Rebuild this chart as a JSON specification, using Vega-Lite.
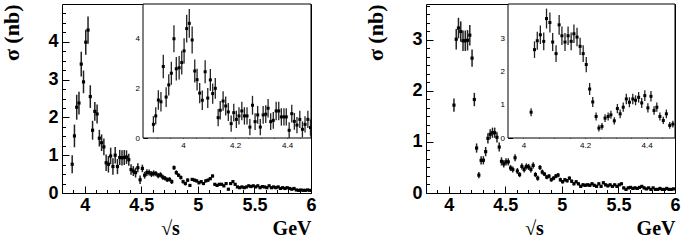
{
"$schema": "https://vega.github.io/schema/vega-lite/v6.json",
"padding": {"left": 0, "top": 3, "right": 0, "bottom": 0},
"background": "white",
"datasets": {
"mainA": [
{"x":3.89,"y":0.76,"e":0.24},{"x":3.91,"y":1.51,"e":0.3},{"x":3.93,"y":2.27,"e":0.33},{"x":3.95,"y":2.38,"e":0.3},{"x":3.97,"y":3.41,"e":0.33},{"x":3.99,"y":2.94,"e":0.3},{"x":4.01,"y":3.99,"e":0.33},{"x":4.03,"y":4.31,"e":0.36},{"x":4.05,"y":2.55,"e":0.3},{"x":4.07,"y":1.66,"e":0.25},{"x":4.09,"y":2.16,"e":0.25},{"x":4.11,"y":2.09,"e":0.25},{"x":4.13,"y":1.45,"e":0.22},{"x":4.15,"y":1.33,"e":0.22},{"x":4.17,"y":1.22,"e":0.22},{"x":4.19,"y":0.8,"e":0.22},{"x":4.21,"y":0.76,"e":0.22},{"x":4.23,"y":0.98,"e":0.22},{"x":4.25,"y":0.7,"e":0.22},{"x":4.27,"y":1.0,"e":0.22},{"x":4.29,"y":0.7,"e":0.2},{"x":4.31,"y":0.94,"e":0.2},{"x":4.33,"y":0.93,"e":0.2},{"x":4.35,"y":0.94,"e":0.2},{"x":4.37,"y":0.95,"e":0.18},{"x":4.39,"y":0.88,"e":0.16},{"x":4.41,"y":0.62,"e":0.14},{"x":4.43,"y":0.58,"e":0.13},{"x":4.45,"y":0.54,"e":0.13},{"x":4.47,"y":0.67,"e":0.12},{"x":4.49,"y":0.35,"e":0.11},{"x":4.51,"y":0.65,"e":0.1},{"x":4.53,"y":0.47,"e":0.09},{"x":4.55,"y":0.54,"e":0.09},{"x":4.57,"y":0.54,"e":0.08},{"x":4.59,"y":0.5,"e":0.08},{"x":4.61,"y":0.52,"e":0.08},{"x":4.63,"y":0.51,"e":0.07},{"x":4.65,"y":0.46,"e":0.07},{"x":4.67,"y":0.48,"e":0.07},{"x":4.69,"y":0.42,"e":0.07},{"x":4.71,"y":0.39,"e":0.06},{"x":4.73,"y":0.35,"e":0.06},{"x":4.75,"y":0.36,"e":0.06},{"x":4.77,"y":0.3,"e":0.06},{"x":4.79,"y":0.67,"e":0.06},{"x":4.81,"y":0.54,"e":0.06},{"x":4.83,"y":0.47,"e":0.05},{"x":4.85,"y":0.41,"e":0.05},{"x":4.87,"y":0.3,"e":0.05},{"x":4.89,"y":0.25,"e":0.05},{"x":4.91,"y":0.34,"e":0.05},{"x":4.93,"y":0.2,"e":0.04},{"x":4.95,"y":0.36,"e":0.04},{"x":4.97,"y":0.34,"e":0.04},{"x":4.99,"y":0.32,"e":0.04},{"x":5.01,"y":0.27,"e":0.04},{"x":5.03,"y":0.3,"e":0.04},{"x":5.05,"y":0.25,"e":0.04},{"x":5.07,"y":0.32,"e":0.04},{"x":5.09,"y":0.34,"e":0.04},{"x":5.11,"y":0.38,"e":0.04},{"x":5.13,"y":0.45,"e":0.04},{"x":5.15,"y":0.23,"e":0.035},{"x":5.17,"y":0.2,"e":0.035},{"x":5.19,"y":0.23,"e":0.035},{"x":5.21,"y":0.23,"e":0.035},{"x":5.23,"y":0.19,"e":0.035},{"x":5.25,"y":0.25,"e":0.035},{"x":5.27,"y":0.1,"e":0.03},{"x":5.29,"y":0.25,"e":0.03},{"x":5.31,"y":0.3,"e":0.03},{"x":5.33,"y":0.23,"e":0.03},{"x":5.35,"y":0.16,"e":0.03},{"x":5.37,"y":0.14,"e":0.03},{"x":5.39,"y":0.16,"e":0.03},{"x":5.41,"y":0.14,"e":0.03},{"x":5.43,"y":0.16,"e":0.03},{"x":5.45,"y":0.19,"e":0.03},{"x":5.47,"y":0.17,"e":0.03},{"x":5.49,"y":0.19,"e":0.03},{"x":5.51,"y":0.16,"e":0.03},{"x":5.53,"y":0.19,"e":0.03},{"x":5.55,"y":0.14,"e":0.03},{"x":5.57,"y":0.17,"e":0.03},{"x":5.59,"y":0.16,"e":0.03},{"x":5.61,"y":0.14,"e":0.03},{"x":5.63,"y":0.19,"e":0.03},{"x":5.65,"y":0.14,"e":0.03},{"x":5.67,"y":0.16,"e":0.03},{"x":5.69,"y":0.14,"e":0.03},{"x":5.71,"y":0.16,"e":0.03},{"x":5.73,"y":0.12,"e":0.03},{"x":5.75,"y":0.14,"e":0.03},{"x":5.77,"y":0.12,"e":0.03},{"x":5.79,"y":0.14,"e":0.03},{"x":5.81,"y":0.12,"e":0.025},{"x":5.83,"y":0.1,"e":0.025},{"x":5.85,"y":0.12,"e":0.025},{"x":5.87,"y":0.08,"e":0.025},{"x":5.89,"y":0.07,"e":0.025},{"x":5.91,"y":0.08,"e":0.025},{"x":5.93,"y":0.07,"e":0.025},{"x":5.95,"y":0.07,"e":0.025},{"x":5.97,"y":0.08,"e":0.025},{"x":5.99,"y":0.07,"e":0.025}
],
"insetA": [
{"x":3.886,"y":0.55,"e":0.33},{"x":3.895,"y":0.89,"e":0.35},{"x":3.905,"y":1.53,"e":0.39},{"x":3.915,"y":1.46,"e":0.39},{"x":3.924,"y":2.88,"e":0.47},{"x":3.935,"y":1.65,"e":0.4},{"x":3.945,"y":2.14,"e":0.43},{"x":3.955,"y":2.61,"e":0.46},{"x":3.965,"y":4.0,"e":0.54},{"x":3.974,"y":2.79,"e":0.47},{"x":3.985,"y":2.83,"e":0.47},{"x":3.995,"y":3.04,"e":0.48},{"x":4.004,"y":3.51,"e":0.51},{"x":4.014,"y":4.41,"e":0.56},{"x":4.024,"y":4.62,"e":0.58},{"x":4.035,"y":3.95,"e":0.54},{"x":4.045,"y":2.7,"e":0.46},{"x":4.054,"y":2.35,"e":0.44},{"x":4.064,"y":1.81,"e":0.41},{"x":4.074,"y":1.52,"e":0.39},{"x":4.085,"y":2.67,"e":0.46},{"x":4.095,"y":1.61,"e":0.4},{"x":4.105,"y":2.34,"e":0.44},{"x":4.114,"y":1.79,"e":0.41},{"x":4.124,"y":2.0,"e":0.42},{"x":4.135,"y":0.82,"e":0.35},{"x":4.143,"y":1.12,"e":0.37},{"x":4.154,"y":1.49,"e":0.39},{"x":4.164,"y":1.29,"e":0.38},{"x":4.174,"y":1.05,"e":0.36},{"x":4.185,"y":0.58,"e":0.33},{"x":4.195,"y":1.02,"e":0.36},{"x":4.205,"y":0.75,"e":0.35},{"x":4.215,"y":0.89,"e":0.35},{"x":4.226,"y":1.09,"e":0.37},{"x":4.236,"y":0.89,"e":0.35},{"x":4.246,"y":0.89,"e":0.35},{"x":4.257,"y":0.44,"e":0.33},{"x":4.267,"y":1.32,"e":0.38},{"x":4.277,"y":0.66,"e":0.34},{"x":4.287,"y":0.93,"e":0.36},{"x":4.297,"y":0.44,"e":0.33},{"x":4.308,"y":0.93,"e":0.36},{"x":4.318,"y":0.96,"e":0.36},{"x":4.327,"y":1.2,"e":0.37},{"x":4.337,"y":0.66,"e":0.34},{"x":4.347,"y":0.71,"e":0.34},{"x":4.358,"y":1.09,"e":0.37},{"x":4.368,"y":1.09,"e":0.37},{"x":4.378,"y":0.85,"e":0.35},{"x":4.388,"y":0.85,"e":0.35},{"x":4.397,"y":0.85,"e":0.35},{"x":4.408,"y":0.31,"e":0.32},{"x":4.418,"y":0.98,"e":0.36},{"x":4.428,"y":0.67,"e":0.34},{"x":4.438,"y":0.52,"e":0.33},{"x":4.449,"y":0.75,"e":0.35},{"x":4.459,"y":0.35,"e":0.32},{"x":4.469,"y":0.55,"e":0.33},{"x":4.48,"y":0.75,"e":0.35},{"x":4.49,"y":0.42,"e":0.33}
],
"mainB": [
{"x":4.047,"y":1.72,"e":0.13},{"x":4.067,"y":3.01,"e":0.2},{"x":4.087,"y":3.23,"e":0.2},{"x":4.107,"y":3.16,"e":0.2},{"x":4.127,"y":2.98,"e":0.2},{"x":4.147,"y":2.98,"e":0.2},{"x":4.167,"y":2.99,"e":0.2},{"x":4.187,"y":3.09,"e":0.2},{"x":4.207,"y":2.64,"e":0.17},{"x":4.227,"y":1.83,"e":0.13},{"x":4.247,"y":0.88,"e":0.09},{"x":4.267,"y":0.35,"e":0.06},{"x":4.287,"y":0.64,"e":0.08},{"x":4.307,"y":0.64,"e":0.08},{"x":4.327,"y":0.81,"e":0.09},{"x":4.347,"y":1.07,"e":0.1},{"x":4.367,"y":1.15,"e":0.1},{"x":4.387,"y":1.18,"e":0.1},{"x":4.407,"y":1.18,"e":0.1},{"x":4.427,"y":1.09,"e":0.1},{"x":4.447,"y":0.9,"e":0.09},{"x":4.467,"y":0.62,"e":0.08},{"x":4.487,"y":0.57,"e":0.07},{"x":4.507,"y":0.61,"e":0.07},{"x":4.527,"y":0.61,"e":0.07},{"x":4.547,"y":0.49,"e":0.06},{"x":4.567,"y":0.46,"e":0.06},{"x":4.587,"y":0.69,"e":0.07},{"x":4.607,"y":0.43,"e":0.06},{"x":4.627,"y":0.36,"e":0.05},{"x":4.647,"y":0.52,"e":0.06},{"x":4.667,"y":0.46,"e":0.06},{"x":4.687,"y":0.52,"e":0.06},{"x":4.707,"y":0.51,"e":0.06},{"x":4.727,"y":0.46,"e":0.06},{"x":4.747,"y":0.54,"e":0.06},{"x":4.767,"y":0.36,"e":0.05},{"x":4.787,"y":0.29,"e":0.05},{"x":4.807,"y":0.5,"e":0.05},{"x":4.827,"y":0.41,"e":0.05},{"x":4.847,"y":0.37,"e":0.04},{"x":4.867,"y":0.31,"e":0.04},{"x":4.887,"y":0.33,"e":0.04},{"x":4.907,"y":0.26,"e":0.04},{"x":4.927,"y":0.29,"e":0.04},{"x":4.947,"y":0.33,"e":0.04},{"x":4.967,"y":0.35,"e":0.04},{"x":4.987,"y":0.26,"e":0.04},{"x":5.007,"y":0.22,"e":0.035},{"x":5.027,"y":0.26,"e":0.035},{"x":5.047,"y":0.24,"e":0.035},{"x":5.067,"y":0.29,"e":0.035},{"x":5.087,"y":0.23,"e":0.035},{"x":5.107,"y":0.18,"e":0.03},{"x":5.127,"y":0.22,"e":0.03},{"x":5.147,"y":0.18,"e":0.03},{"x":5.167,"y":0.13,"e":0.03},{"x":5.187,"y":0.16,"e":0.03},{"x":5.207,"y":0.15,"e":0.03},{"x":5.227,"y":0.16,"e":0.03},{"x":5.247,"y":0.15,"e":0.03},{"x":5.267,"y":0.18,"e":0.03},{"x":5.287,"y":0.15,"e":0.03},{"x":5.307,"y":0.13,"e":0.03},{"x":5.327,"y":0.18,"e":0.03},{"x":5.347,"y":0.13,"e":0.03},{"x":5.367,"y":0.2,"e":0.03},{"x":5.387,"y":0.16,"e":0.03},{"x":5.407,"y":0.14,"e":0.025},{"x":5.427,"y":0.16,"e":0.025},{"x":5.447,"y":0.13,"e":0.025},{"x":5.467,"y":0.16,"e":0.025},{"x":5.487,"y":0.13,"e":0.025},{"x":5.507,"y":0.16,"e":0.025},{"x":5.527,"y":0.18,"e":0.025},{"x":5.547,"y":0.1,"e":0.025},{"x":5.567,"y":0.07,"e":0.025},{"x":5.587,"y":0.1,"e":0.025},{"x":5.607,"y":0.11,"e":0.025},{"x":5.627,"y":0.09,"e":0.025},{"x":5.647,"y":0.1,"e":0.025},{"x":5.667,"y":0.09,"e":0.025},{"x":5.687,"y":0.11,"e":0.025},{"x":5.707,"y":0.13,"e":0.025},{"x":5.727,"y":0.1,"e":0.025},{"x":5.747,"y":0.08,"e":0.02},{"x":5.767,"y":0.1,"e":0.02},{"x":5.787,"y":0.07,"e":0.02},{"x":5.807,"y":0.1,"e":0.02},{"x":5.827,"y":0.07,"e":0.02},{"x":5.847,"y":0.07,"e":0.02},{"x":5.867,"y":0.09,"e":0.02},{"x":5.887,"y":0.07,"e":0.02},{"x":5.907,"y":0.07,"e":0.02},{"x":5.927,"y":0.09,"e":0.02},{"x":5.947,"y":0.07,"e":0.02},{"x":5.967,"y":0.07,"e":0.02},{"x":5.987,"y":0.08,"e":0.02}
],
"insetB": [
{"x":4.025,"y":0.78,"e":0.12},{"x":4.036,"y":2.67,"e":0.25},{"x":4.045,"y":2.94,"e":0.27},{"x":4.055,"y":3.12,"e":0.28},{"x":4.066,"y":2.92,"e":0.27},{"x":4.075,"y":3.61,"e":0.3},{"x":4.086,"y":3.49,"e":0.3},{"x":4.095,"y":2.9,"e":0.27},{"x":4.106,"y":2.55,"e":0.25},{"x":4.116,"y":3.42,"e":0.3},{"x":4.125,"y":3.09,"e":0.28},{"x":4.135,"y":2.9,"e":0.27},{"x":4.145,"y":3.09,"e":0.28},{"x":4.155,"y":2.92,"e":0.27},{"x":4.164,"y":3.15,"e":0.28},{"x":4.174,"y":3.05,"e":0.28},{"x":4.184,"y":2.77,"e":0.26},{"x":4.194,"y":2.55,"e":0.25},{"x":4.204,"y":2.22,"e":0.23},{"x":4.215,"y":1.48,"e":0.18},{"x":4.225,"y":1.09,"e":0.15},{"x":4.236,"y":0.65,"e":0.12},{"x":4.245,"y":0.3,"e":0.1},{"x":4.255,"y":0.35,"e":0.1},{"x":4.265,"y":0.6,"e":0.12},{"x":4.275,"y":0.65,"e":0.12},{"x":4.284,"y":0.7,"e":0.12},{"x":4.295,"y":0.52,"e":0.11},{"x":4.305,"y":0.89,"e":0.14},{"x":4.314,"y":0.73,"e":0.13},{"x":4.324,"y":0.93,"e":0.14},{"x":4.334,"y":1.18,"e":0.16},{"x":4.344,"y":1.08,"e":0.15},{"x":4.355,"y":1.18,"e":0.16},{"x":4.364,"y":1.14,"e":0.15},{"x":4.374,"y":1.23,"e":0.16},{"x":4.384,"y":1.06,"e":0.15},{"x":4.394,"y":1.28,"e":0.16},{"x":4.404,"y":0.91,"e":0.14},{"x":4.414,"y":1.26,"e":0.16},{"x":4.424,"y":0.83,"e":0.13},{"x":4.433,"y":0.93,"e":0.14},{"x":4.443,"y":0.65,"e":0.12},{"x":4.454,"y":0.53,"e":0.11},{"x":4.464,"y":0.73,"e":0.13},{"x":4.475,"y":0.38,"e":0.1},{"x":4.485,"y":0.42,"e":0.1}
]
},
"hconcat": [
{
"width": 249, "height": 189,
"resolve": {"scale": {"x": "independent", "y": "independent"}, "axis": {"x": "independent", "y": "independent"}},
"layer": [
{"data": {"name": "mainA"}, "mark": {"type": "errorbar", "color": "#222", "thickness": 1.5},
 "encoding": {
  "x": {"field": "x", "type": "quantitative", "scale": {"domain": [3.8, 6], "nice": false, "zero": false},
        "axis": {"orient": "bottom", "values": [3.8,3.9,4.1,4.2,4.3,4.4,4.6,4.7,4.8,4.9,5.1,5.2,5.3,5.4,5.6,5.7,5.8,5.9], "tickSize": -3.5, "tickColor": "black", "labels": false, "domain": false, "grid": false,
                 "title": "√s", "titleFont": "Liberation Serif", "titleFontSize": 20, "titleFontWeight": "bold", "titleColor": "black", "titleX": 108, "titleY": 41, "titleAlign": "center", "titleBaseline": "alphabetic"}},
  "y": {"field": "y", "type": "quantitative", "scale": {"domain": [0, 5], "nice": false},
        "axis": {"orient": "left", "values": [0.25,0.5,0.75,1.25,1.5,1.75,2.25,2.5,2.75,3.25,3.5,3.75,4.25,4.5,4.75], "tickSize": -3.5, "tickColor": "black", "labels": false, "domain": false, "grid": false, "title": null}},
  "yError": {"field": "e"}
 }},
{"data": {"name": "mainA"}, "mark": {"type": "point", "shape": "square", "filled": true, "size": 10, "color": "black", "opacity": 1},
 "encoding": {
  "x": {"field": "x", "type": "quantitative", "scale": {"domain": [3.8, 6], "nice": false, "zero": false},
        "axis": {"orient": "bottom", "values": [4, 4.5, 5, 5.5, 6], "format": "~g", "tickSize": -7, "tickColor": "black", "domain": false, "grid": false,
                 "labelFont": "Liberation Sans", "labelFontWeight": "bold", "labelFontSize": 18, "labelColor": "black", "labelPadding": 10, "labelFlush": false,
                 "title": "GeV", "titleFont": "Liberation Serif", "titleFontSize": 20, "titleFontWeight": "bold", "titleColor": "black", "titleX": 249, "titleY": 41, "titleAlign": "right", "titleBaseline": "alphabetic"}},
  "y": {"field": "y", "type": "quantitative", "scale": {"domain": [0, 5], "nice": false},
        "axis": {"orient": "left", "values": [0, 1, 2, 3, 4], "format": "d", "tickSize": -7, "tickColor": "black", "domain": false, "grid": false,
                 "labelFont": "Liberation Sans", "labelFontWeight": "bold", "labelFontSize": 18, "labelColor": "black", "labelPadding": 11, "labelFlush": false,
                 "title": "σ (nb)", "titleFont": "Liberation Serif", "titleFontSize": 22, "titleFontWeight": "bold", "titleColor": "black", "titleAnchor": "end", "titlePadding": 24}}
 }},
{"data": {"values": [{}]}, "mark": {"type": "rect", "fill": "white", "stroke": "black", "strokeWidth": 1},
 "encoding": {
  "x": {"datum": 3.846, "type": "quantitative", "scale": {"domain": [3.846, 4.492], "range": [81, 249], "nice": false, "zero": false},
        "axis": {"orient": "bottom", "offset": -55, "values": [3.85,3.9,3.95,4.05,4.1,4.15,4.25,4.3,4.35,4.45], "tickSize": -2.5, "tickColor": "black", "labels": false, "domain": false, "grid": false, "title": null}},
  "x2": {"datum": 4.492},
  "y": {"datum": 0, "type": "quantitative", "scale": {"domain": [0, 5.4], "range": [134, 0], "nice": false},
        "axis": {"orient": "left", "offset": -81, "values": [0.5,1,1.5,2.5,3,3.5,4.5,5], "tickSize": -2.5, "tickColor": "black", "labels": false, "domain": false, "grid": false, "title": null}},
  "y2": {"datum": 5.4}
 }},
{"data": {"name": "insetA"}, "mark": {"type": "errorbar", "color": "#222", "thickness": 1.3},
 "encoding": {
  "x": {"field": "x", "type": "quantitative", "scale": {"domain": [3.846, 4.492], "range": [81, 249], "nice": false, "zero": false}, "axis": null},
  "y": {"field": "y", "type": "quantitative", "scale": {"domain": [0, 5.4], "range": [134, 0], "nice": false}, "axis": null},
  "yError": {"field": "e"}
 }},
{"data": {"name": "insetA"}, "mark": {"type": "point", "shape": "square", "filled": true, "size": 9, "color": "black", "opacity": 1},
 "encoding": {
  "x": {"field": "x", "type": "quantitative", "scale": {"domain": [3.846, 4.492], "range": [81, 249], "nice": false, "zero": false},
        "axis": {"orient": "bottom", "offset": -55, "values": [4, 4.2, 4.4], "format": "~g", "tickSize": -4.5, "tickColor": "black", "domain": false, "grid": false,
                 "labelFont": "Liberation Sans", "labelFontSize": 8, "labelColor": "black", "labelPadding": 7.5, "labelFlush": false, "title": null}},
  "y": {"field": "y", "type": "quantitative", "scale": {"domain": [0, 5.4], "range": [134, 0], "nice": false},
        "axis": {"orient": "left", "offset": -81, "values": [0, 2, 4], "format": "d", "tickSize": -4.5, "tickColor": "black", "domain": false, "grid": false,
                 "labelFont": "Liberation Sans", "labelFontSize": 8, "labelColor": "black", "labelPadding": 8, "labelFlush": false, "title": null}}
 }}
]
},
{
"width": 249, "height": 189,
"resolve": {"scale": {"x": "independent", "y": "independent"}, "axis": {"x": "independent", "y": "independent"}},
"layer": [
{"data": {"name": "mainB"}, "mark": {"type": "errorbar", "color": "#222", "thickness": 1.5},
 "encoding": {
  "x": {"field": "x", "type": "quantitative", "scale": {"domain": [3.8, 6], "nice": false, "zero": false},
        "axis": {"orient": "bottom", "values": [3.8,3.9,4.1,4.2,4.3,4.4,4.6,4.7,4.8,4.9,5.1,5.2,5.3,5.4,5.6,5.7,5.8,5.9], "tickSize": -3.5, "tickColor": "black", "labels": false, "domain": false, "grid": false,
                 "title": "√s", "titleFont": "Liberation Serif", "titleFontSize": 20, "titleFontWeight": "bold", "titleColor": "black", "titleX": 108, "titleY": 41, "titleAlign": "center", "titleBaseline": "alphabetic"}},
  "y": {"field": "y", "type": "quantitative", "scale": {"domain": [0, 3.7], "nice": false},
        "axis": {"orient": "left", "values": [0.1667,0.3333,0.5,0.6667,0.8333,1.1667,1.3333,1.5,1.6667,1.8333,2.1667,2.3333,2.5,2.6667,2.8333,3.1667,3.3333,3.5,3.6667], "tickSize": -3.5, "tickColor": "black", "labels": false, "domain": false, "grid": false, "title": null}},
  "yError": {"field": "e"}
 }},
{"data": {"name": "mainB"}, "mark": {"type": "point", "shape": "square", "filled": true, "size": 10, "color": "black", "opacity": 1},
 "encoding": {
  "x": {"field": "x", "type": "quantitative", "scale": {"domain": [3.8, 6], "nice": false, "zero": false},
        "axis": {"orient": "bottom", "values": [4, 4.5, 5, 5.5, 6], "format": "~g", "tickSize": -7, "tickColor": "black", "domain": false, "grid": false,
                 "labelFont": "Liberation Sans", "labelFontWeight": "bold", "labelFontSize": 18, "labelColor": "black", "labelPadding": 10, "labelFlush": false,
                 "title": "GeV", "titleFont": "Liberation Serif", "titleFontSize": 20, "titleFontWeight": "bold", "titleColor": "black", "titleX": 249, "titleY": 41, "titleAlign": "right", "titleBaseline": "alphabetic"}},
  "y": {"field": "y", "type": "quantitative", "scale": {"domain": [0, 3.7], "nice": false},
        "axis": {"orient": "left", "values": [0, 1, 2, 3], "format": "d", "tickSize": -7, "tickColor": "black", "domain": false, "grid": false,
                 "labelFont": "Liberation Sans", "labelFontWeight": "bold", "labelFontSize": 18, "labelColor": "black", "labelPadding": 11, "labelFlush": false,
                 "title": "σ (nb)", "titleFont": "Liberation Serif", "titleFontSize": 22, "titleFontWeight": "bold", "titleColor": "black", "titleAnchor": "end", "titlePadding": 24}}
 }},
{"data": {"values": [{}]}, "mark": {"type": "rect", "fill": "white", "stroke": "black", "strokeWidth": 1},
 "encoding": {
  "x": {"datum": 3.95, "type": "quantitative", "scale": {"domain": [3.95, 4.492], "range": [82, 249], "nice": false, "zero": false},
        "axis": {"orient": "bottom", "offset": -55, "values": [3.95,4.05,4.1,4.15,4.25,4.3,4.35,4.45], "tickSize": -2.5, "tickColor": "black", "labels": false, "domain": false, "grid": false, "title": null}},
  "x2": {"datum": 4.492},
  "y": {"datum": 0, "type": "quantitative", "scale": {"domain": [0, 4.05], "range": [134, 0], "nice": false},
        "axis": {"orient": "left", "offset": -82, "values": [0.25,0.5,0.75,1.25,1.5,1.75,2.25,2.5,2.75,3.25,3.5,3.75,4], "tickSize": -2.5, "tickColor": "black", "labels": false, "domain": false, "grid": false, "title": null}},
  "y2": {"datum": 4.05}
 }},
{"data": {"name": "insetB"}, "mark": {"type": "errorbar", "color": "#222", "thickness": 1.3},
 "encoding": {
  "x": {"field": "x", "type": "quantitative", "scale": {"domain": [3.95, 4.492], "range": [82, 249], "nice": false, "zero": false}, "axis": null},
  "y": {"field": "y", "type": "quantitative", "scale": {"domain": [0, 4.05], "range": [134, 0], "nice": false}, "axis": null},
  "yError": {"field": "e"}
 }},
{"data": {"name": "insetB"}, "mark": {"type": "point", "shape": "square", "filled": true, "size": 9, "color": "black", "opacity": 1},
 "encoding": {
  "x": {"field": "x", "type": "quantitative", "scale": {"domain": [3.95, 4.492], "range": [82, 249], "nice": false, "zero": false},
        "axis": {"orient": "bottom", "offset": -55, "values": [4, 4.2, 4.4], "format": "~g", "tickSize": -4.5, "tickColor": "black", "domain": false, "grid": false,
                 "labelFont": "Liberation Sans", "labelFontSize": 8, "labelColor": "black", "labelPadding": 7.5, "labelFlush": false, "title": null}},
  "y": {"field": "y", "type": "quantitative", "scale": {"domain": [0, 4.05], "range": [134, 0], "nice": false},
        "axis": {"orient": "left", "offset": -82, "values": [0, 1, 2, 3], "format": "d", "tickSize": -4.5, "tickColor": "black", "domain": false, "grid": false,
                 "labelFont": "Liberation Sans", "labelFontSize": 8, "labelColor": "black", "labelPadding": 8, "labelFlush": false, "title": null}}
 }}
]
}
],
"spacing": 47,
"config": {"view": {"stroke": "black", "strokeWidth": 1}}
}
